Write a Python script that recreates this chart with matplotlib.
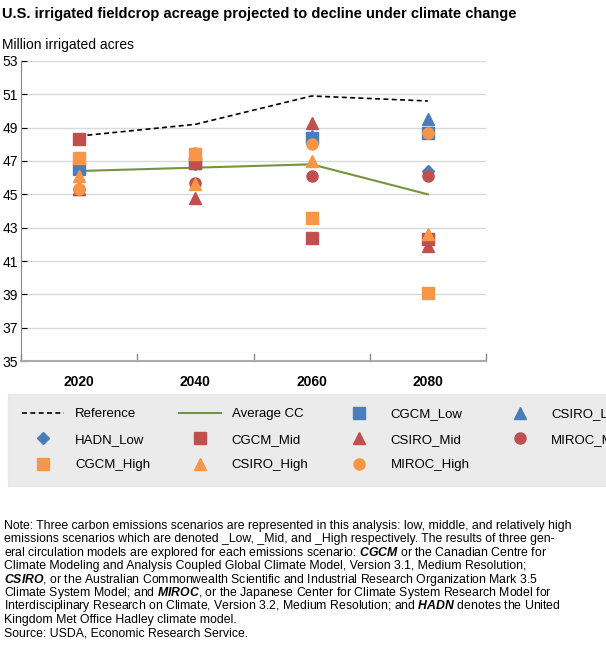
import matplotlib
matplotlib.use("Agg")
import matplotlib.pyplot as plt

plt.rcParams['font.family'] = ['Liberation Sans', 'DejaVu Sans']
plt.rcParams['mathtext.fontset'] = 'custom'
plt.rcParams['mathtext.it'] = 'Liberation Sans:italic:bold'
plt.rcParams['mathtext.rm'] = 'Liberation Sans'

years = ["2020", "2040", "2060", "2080"]
reference = [48.5, 49.2, 50.9, 50.6]
average_cc = [46.4, 46.6, 46.8, 45.0]
cgcm_low = [46.5, 46.9, 48.4, 48.7]
csiro_low = [45.3, 47.2, 48.5, 49.5]
hadn_low = [46.6, 46.8, 48.3, 46.4]
cgcm_mid = [48.3, 46.9, 42.4, 42.3]
csiro_mid = [45.3, 44.8, 49.3, 41.9]
miroc_mid = [45.3, 45.7, 46.1, 46.1]
cgcm_high = [47.2, 47.4, 43.6, 39.1]
csiro_high = [46.1, 45.6, 47.0, 42.6]
miroc_high = [45.3, 47.5, 48.0, 48.7]

BLUE, RED, ORANGE = "#4a7ebb", "#c0504d", "#f79646"

fig = plt.figure(figsize=(6.06, 6.53), dpi=100)
ax = fig.add_axes([21/606, 1-361/653, (486-21)/606, 300/653])
x = list(range(len(years)))
h = {}
h["Reference"], = ax.plot(x, reference, "k--", lw=1.2, dashes=(3, 2))
h["Average CC"], = ax.plot(x, average_cc, color="#77933c", lw=1.5)
ms = 8
series = [
    (cgcm_low, BLUE, "s", "CGCM_Low"),
    (csiro_low, BLUE, "^", "CSIRO_Low"),
    (hadn_low, BLUE, "D", "HADN_Low"),
    (cgcm_mid, RED, "s", "CGCM_Mid"),
    (csiro_mid, RED, "^", "CSIRO_Mid"),
    (miroc_mid, RED, "o", "MIROC_Mid"),
    (cgcm_high, ORANGE, "s", "CGCM_High"),
    (csiro_high, ORANGE, "^", "CSIRO_High"),
    (miroc_high, ORANGE, "o", "MIROC_High"),
]
for vals, c, m, lab in series:
    h[lab], = ax.plot(x, vals, linestyle="none", marker=m, color=c, ms=ms if m != "D" else 6)

ax.set_xlim(-0.5, 3.5)
ax.set_ylim(35, 53)
ax.set_yticks(range(35, 54, 2))
ax.set_xticks(x)
ax.set_xticklabels(years, fontweight="bold", fontsize=10)
ax.tick_params(axis="x", length=0, pad=10)
ax.tick_params(axis="y", labelsize=10, length=4, direction="in", pad=2)
ax.grid(axis="y", color="#d9d9d9", lw=1)
ax.set_axisbelow(True)
for s in ["top", "right"]:
    ax.spines[s].set_visible(False)
ax.spines["left"].set_color("#888888")
ax.spines["bottom"].set_color("#aaaaaa")
ax.spines["bottom"].set_linewidth(1.5)
for xv in [0.5, 1.5, 2.5, 3.5, -0.5]:
    ax.plot([xv, xv], [35, 35.4], color="#888888", lw=1, clip_on=False)

fig.text(2/606, 1-14/653, "U.S. irrigated fieldcrop acreage projected to decline under climate change",
         fontsize=10.5, fontweight="bold", va="center")
fig.text(2/606, 1-45/653, "Million irrigated acres", fontsize=10, va="center")

order = ["Reference", "HADN_Low", "CGCM_High",
         "Average CC", "CGCM_Mid", "CSIRO_High",
         "CGCM_Low", "CSIRO_Mid", "MIROC_High",
         "CSIRO_Low", "MIROC_Mid"]
leg = fig.legend([h[k] for k in order], order, loc="upper left", bbox_to_anchor=(5/606, 1-391/653),
                 ncol=4, frameon=True, fontsize=9.5, handlelength=3.2,
                 columnspacing=2.2, labelspacing=1.0, borderpad=0.8)
leg.get_frame().set_facecolor("#e6e6e6")
leg.get_frame().set_edgecolor("#e6e6e6")
leg.get_frame().set_boxstyle("square")

note_lines = [
    "Note: Three carbon emissions scenarios are represented in this analysis: low, middle, and relatively high",
    "emissions scenarios which are denoted _Low, _Mid, and _High respectively. The results of three gen-",
    "eral circulation models are explored for each emissions scenario: $\\mathit{CGCM}$ or the Canadian Centre for",
    "Climate Modeling and Analysis Coupled Global Climate Model, Version 3.1, Medium Resolution;",
    "$\\mathit{CSIRO}$, or the Australian Commonwealth Scientific and Industrial Research Organization Mark 3.5",
    "Climate System Model; and $\\mathit{MIROC}$, or the Japanese Center for Climate System Research Model for",
    "Interdisciplinary Research on Climate, Version 3.2, Medium Resolution; and $\\mathit{HADN}$ denotes the United",
    "Kingdom Met Office Hadley climate model.",
    "Source: USDA, Economic Research Service.",
]
for i, line in enumerate(note_lines):
    fig.text(4/606, 1-(526 + i*13.4)/653, line, fontsize=8.8, va="center")

fig.savefig("out.png", dpi=100)
